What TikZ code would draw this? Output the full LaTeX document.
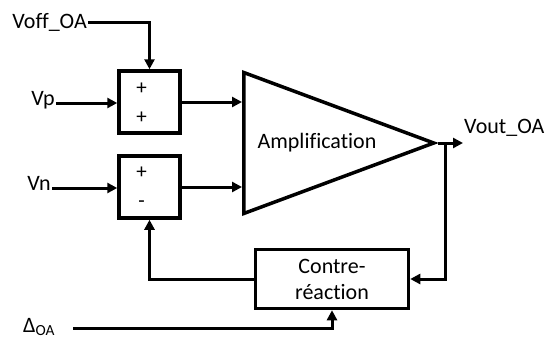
\documentclass[tikz,border=0pt]{standalone}
\usepackage{fontspec}
\setmainfont{Carlito}[Ligatures=NoCommon]
\usetikzlibrary{arrows.meta,positioning,shapes.geometric}

\begin{document}
\begin{tikzpicture}[
x=1pt,y=-1pt,
font=\fontsize{22}{24}\selectfont,
blk/.style={draw,line width=3.5pt,align=center,inner sep=0pt},
sum/.style={blk,minimum width=61pt,minimum height=62pt},
amp/.style={isosceles triangle,isosceles triangle stretches,draw,
line width=3.5pt,inner sep=0pt,shape border rotate=0,
minimum width=141pt,minimum height=190pt},
sgn/.style={font=\fontsize{21}{22}\selectfont,inner sep=0pt},
arr/.style={-{Triangle[length=10pt,width=10pt]},line width=3pt}
]
\useasboundingbox (0,0) rectangle (548,340);

\node[sum] (s1) at (149.5,102) {};
\node[sum] (s2) at (149.5,187) {};
\node[amp,anchor=lower side] (amp) at (242,143) {};
\node (atx) at (317,143) {Amplification};
\node[blk,minimum width=153pt,minimum height=59pt,
font=\fontsize{22}{26}\selectfont] (cr) at (332,279) {Contre-\\réaction};

% signes
\node[sgn] (p1) at ([xshift=-8pt,yshift=13pt]s1.center) {+};
\node[sgn] (p2) at ([xshift=-8pt,yshift=-16pt]s1.center) {+};
\node[sgn] (p3) at ([xshift=-8pt,yshift=14pt]s2.center) {+};
\node[sgn] (m3) at ([xshift=-8pt,yshift=-17pt]s2.center) {-};

% entrees / sorties
\node[anchor=east,inner sep=1pt] (voff) at (88,22) {Voff\_OA};
\node[anchor=east,inner sep=1pt] (vp) at (56,100) {Vp};
\node[anchor=east,inner sep=1pt] (vn) at (52,183) {Vn};
\node[anchor=west,inner sep=1pt] (vout) at (463,128) {Vout\_OA};
\node[anchor=west,inner sep=1pt] (dlt) at (22,327) {Δ\textsubscript{OA}};
\coordinate (o) at (445,143);

\draw[arr] (voff.east) -| (s1.north);
\draw[arr] (56,103) -- (s1.west |- 0,103);
\draw[arr] (52,188) -- (s2.west |- 0,188);
\draw[arr] (s1.east) -- (s1.east -| amp.lower side);
\draw[arr] (s2.east) -- (s2.east -| amp.lower side);
\draw[arr] (amp.apex) -- (amp.apex -| vout.west);
\draw[arr] (o) |- (cr.east);
\draw[arr] (cr.west) -| (s2.south);
\draw[arr] (73,328) -| (cr.south);
\end{tikzpicture}
\end{document}
